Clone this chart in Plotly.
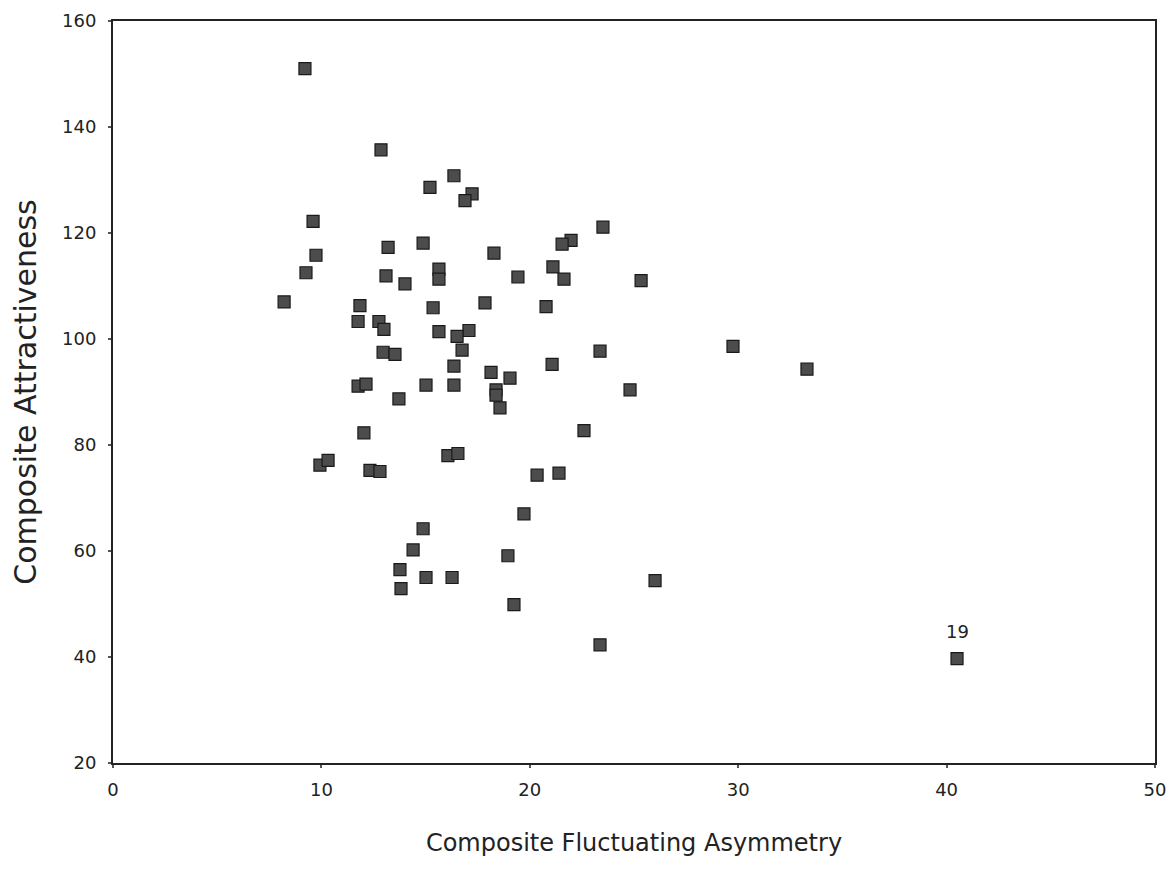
import plotly.graph_objects as go

fa = [9.21, 12.86, 16.36, 15.21, 17.23, 16.89, 9.60, 23.51, 21.98, 21.55,
      14.88, 13.20, 9.74, 18.28, 9.26, 15.64, 15.64, 21.11, 13.10, 19.43,
      21.64, 25.34, 14.01, 8.21, 17.85, 11.85, 15.36, 20.78, 11.76, 12.76,
      13.00, 15.64, 17.08, 16.51, 16.75, 29.75, 23.37, 12.96, 13.53, 33.30,
      21.07, 16.36, 18.14, 19.05, 11.76, 12.14, 15.02, 16.36, 24.81, 18.38,
      18.38, 18.57, 13.72, 22.60, 12.04, 9.93, 10.32, 12.33, 12.81, 20.35,
      21.40, 16.07, 16.55, 19.72, 14.88, 14.40, 18.95, 13.77, 15.02, 16.27,
      13.82, 26.01, 19.24, 23.37, 40.50]
attr = [151.0, 135.7, 130.8, 128.6, 127.4, 126.1, 122.2, 121.1, 118.6, 117.9,
        118.1, 117.3, 115.8, 116.2, 112.5, 113.2, 111.3, 113.6, 111.9, 111.7,
        111.3, 111.0, 110.4, 107.0, 106.8, 106.3, 105.9, 106.1, 103.3, 103.3,
        101.8, 101.4, 101.6, 100.5, 97.9, 98.6, 97.7, 97.5, 97.1, 94.3,
        95.2, 94.9, 93.7, 92.6, 91.1, 91.5, 91.3, 91.3, 90.4, 90.4,
        89.4, 87.0, 88.7, 82.7, 82.3, 76.2, 77.1, 75.2, 75.0, 74.3,
        74.7, 78.0, 78.4, 67.0, 64.2, 60.2, 59.1, 56.5, 55.0, 55.0,
        52.9, 54.4, 49.9, 42.3, 39.7]

outlier_label = "19"
outlier_x = 40.50
outlier_y = 39.7

x_ticks = [0, 10, 20, 30, 40, 50]
y_ticks = [20, 40, 60, 80, 100, 120, 140, 160]

FONT = "DejaVu Sans, Verdana, sans-serif"

fig = go.Figure()
fig.add_trace(go.Scatter(
    x=fa, y=attr, mode="markers",
    marker=dict(symbol="square", size=12, color="#4c4c4c",
                line=dict(color="#1a1a1a", width=1.2)),
    showlegend=False, hoverinfo="x+y"))

fig.add_annotation(x=outlier_x, y=outlier_y, text=outlier_label, showarrow=False,
                   yshift=27, font=dict(family=FONT, size=18, color="#222"))

axis_common = dict(showgrid=False, zeroline=False, showline=True, linecolor="#222",
                   linewidth=2, mirror=True, ticks="outside", ticklen=3,
                   tickcolor="#555", tickwidth=2, automargin=False,
                   ticklabeloverflow="allow",
                   tickfont=dict(family=FONT, size=18, color="#222"))

fig.update_xaxes(range=[0, 50], tickvals=x_ticks, ticklabelstandoff=6, **axis_common,
                 title=dict(text="Composite Fluctuating Asymmetry", standoff=36,
                            font=dict(family=FONT, size=24, color="#222")))
fig.update_yaxes(range=[20, 160], tickvals=y_ticks, ticklabelstandoff=8, **axis_common,
                 title=dict(text="Composite Attractiveness", standoff=28,
                            font=dict(family=FONT, size=30, color="#222")))

fig.update_layout(width=1174, height=887, plot_bgcolor="white", paper_bgcolor="white",
                  margin=dict(l=105, r=27, t=13, b=132))

fig.write_html("out.html")
